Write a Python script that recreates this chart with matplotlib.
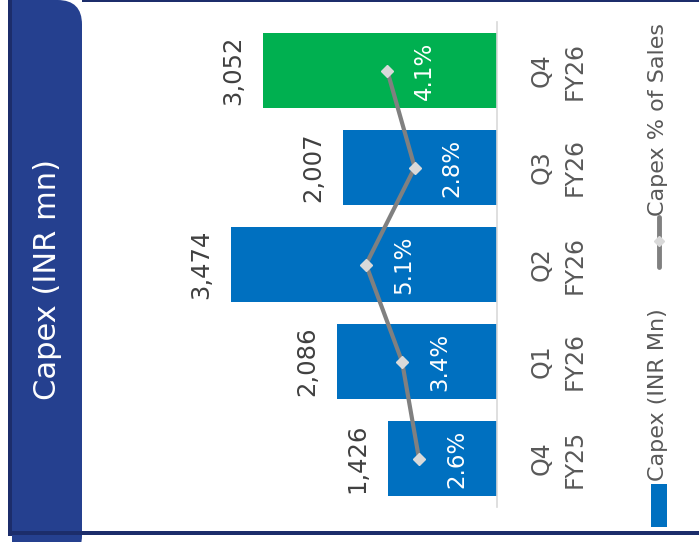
import matplotlib
matplotlib.use("Agg")
import matplotlib.pyplot as plt
import matplotlib.patches as mpatches
import matplotlib.lines as mlines
import matplotlib.transforms as mtransforms

plt.rcParams['font.family'] = ['DejaVu Sans']

categories = ["Q4\nFY25", "Q1\nFY26", "Q2\nFY26", "Q3\nFY26", "Q4\nFY26"]
capex = [1426, 2086, 3474, 2007, 3052]
capex_labels = ["1,426", "2,086", "3,474", "2,007", "3,052"]
pct_sales = [2.6, 3.4, 5.1, 2.8, 4.1]
title = "Capex (INR mn)"
legend_bar = "Capex (INR Mn)"
legend_line = "Capex % of Sales"

W, H = 699, 542
fig = plt.figure(figsize=(W / 100, H / 100), dpi=100)

def fx(px):
    return px / W

def fy(py):
    return (H - py) / H

BLUE = "#0070C0"
GREEN = "#00B050"
PANEL = "#25408F"
NAVY = "#1C2D6B"
FW = "normal"

# ---- frame and side panel ----
fig.add_artist(mpatches.Rectangle((fx(8), fy(536)), fx(4), fy(0) - fy(536),
                                  transform=fig.transFigure, color=NAVY, lw=0, zorder=1))
fig.add_artist(mpatches.FancyBboxPatch((fx(12), fy(560)), fx(70), fy(0) - fy(560),
                                       boxstyle="round,pad=0,rounding_size=0.035",
                                       transform=fig.transFigure, color=PANEL, lw=0,
                                       mutation_aspect=W / H, zorder=2))
fig.add_artist(mpatches.Rectangle((fx(12), fy(560)), fx(40), fy(0) - fy(560),
                                  transform=fig.transFigure, color=PANEL, lw=0, zorder=2))
fig.add_artist(mpatches.Rectangle((fx(12), fy(535)), fx(W), fy(531) - fy(535),
                                  transform=fig.transFigure, color=NAVY, lw=0, zorder=3))
fig.add_artist(mpatches.Rectangle((fx(82), fy(2)), fx(W), fy(0) - fy(2),
                                  transform=fig.transFigure, color=NAVY, lw=0, zorder=3))
fig.text(fx(48), fy(280), title, rotation=90, color="white", fontsize=22, fontweight=FW,
         ha="center", va="center")

# ---- main axes (rotated bar chart drawn as horizontal bars) ----
ax_left, ax_right, ax_top, ax_bot = 200, 497, 22, 507
ax = fig.add_axes([fx(ax_left), fy(ax_bot), fx(ax_right - ax_left), fy(ax_top) - fy(ax_bot)])
ax.set_facecolor("none")
ypos = list(range(len(categories)))
colors = [BLUE] * (len(capex) - 1) + [GREEN]
ax.barh(ypos, capex, height=0.77, color=colors, zorder=2)
ax.set_xlim((ax_right - ax_left) / 0.0766, 0)
ax.set_ylim(-0.5, len(categories) - 0.5)
for s in ["left", "top", "bottom"]:
    ax.spines[s].set_visible(False)
ax.spines["right"].set_color("#D9D9D9")
ax.spines["right"].set_linewidth(1.2)
ax.set_xticks([])
ax.set_yticks([])

for y, v, lab in zip(ypos, capex, capex_labels):
    ax.annotate(lab, (v, y), xytext=(-13, 0), textcoords="offset points",
                rotation=90, ha="right", va="center", fontsize=17.5, fontweight=FW,
                color="#404040")

# category labels
tr = mtransforms.blended_transform_factory(fig.transFigure, ax.transData)
for y, c in zip(ypos, categories):
    ax.text(fx(558), y, c, transform=tr, rotation=90, ha="center", va="center",
            multialignment="center", fontsize=17, fontweight=FW, color="#595959",
            linespacing=1.45)

# ---- line on secondary scale ----
ax2 = ax.twiny()
ax2.set_facecolor("none")
ax2.set_xlim((474.1 - ax_left) / 21.2, (474.1 - ax_right) / 21.2)
ax2.plot(pct_sales, ypos, color="#808080", lw=3, marker="D", markersize=6,
         markerfacecolor="#D9D9D9", markeredgecolor="#D9D9D9", zorder=3)
for s in ax2.spines.values():
    s.set_visible(False)
ax2.set_xticks([])
ax2.set_yticks([])
for y, p in zip(ypos, pct_sales):
    ax2.annotate(f"{p:.1f}%", (p, y), xytext=(27, 0), textcoords="offset points",
                 rotation=90, ha="center", va="center", fontsize=16.5, fontweight=FW,
                 color="white")

# ---- legend (rotated) ----
fig.add_artist(mpatches.Rectangle((fx(651), fy(527)), fx(16), fy(484) - fy(527),
                                  transform=fig.transFigure, color=BLUE, lw=0))
fig.text(fx(658), fy(481), legend_bar, rotation=90, ha="center", va="bottom",
         fontsize=16, fontweight=FW, color="#595959")
fig.add_artist(mlines.Line2D([fx(659), fx(659)], [fy(267), fy(217)], transform=fig.transFigure,
                             color="#808080", lw=3.5, solid_capstyle="round"))
fig.add_artist(mlines.Line2D([fx(659)], [fy(241)], transform=fig.transFigure,
                             marker="D", markersize=5, color="#D9D9D9", lw=0))
fig.text(fx(658), fy(216), legend_line, rotation=90, ha="center", va="bottom",
         fontsize=16, fontweight=FW, color="#595959")

fig.savefig("out.png", dpi=100)
